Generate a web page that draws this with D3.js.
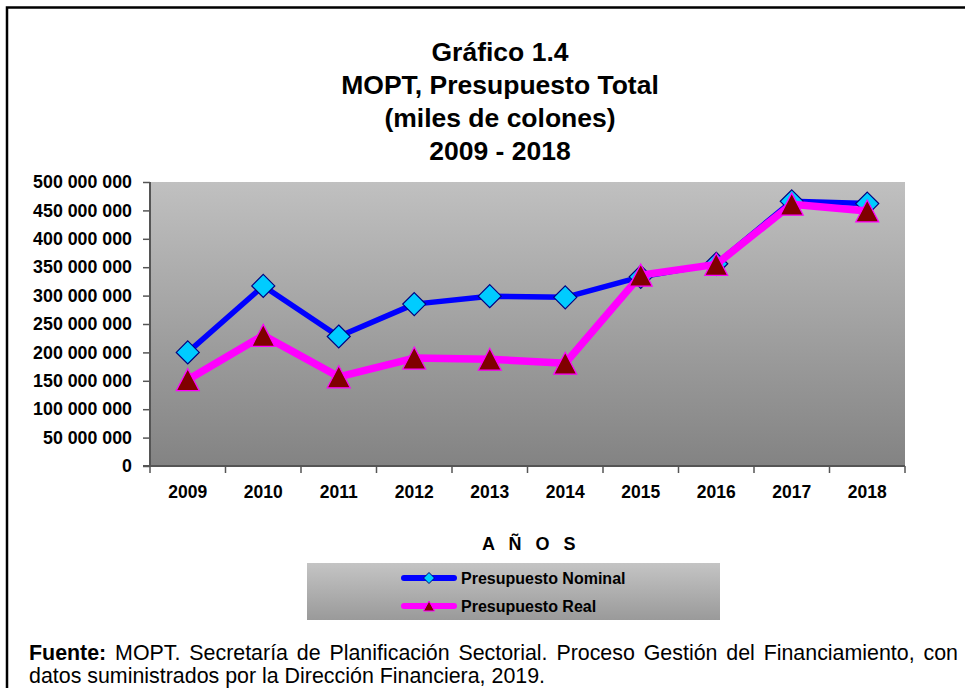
<!DOCTYPE html>
<html>
<head>
<meta charset="utf-8">
<script src="https://cdn.jsdelivr.net/npm/d3@7"></script>
<style>
  html, body { margin: 0; padding: 0; background: #fff; }
</style>
</head>
<body>
<svg id="chart" width="965" height="688"></svg>
<script>
const years = ["2009","2010","2011","2012","2013","2014","2015","2016","2017","2018"];
const nominal = [200000000, 317000000, 228000000, 285000000, 299000000, 297000000, 333000000, 356000000, 466000000, 462000000];
const real    = [152000000, 230000000, 157000000, 190000000, 188000000, 181000000, 336000000, 355000000, 461000000, 449000000];
const yTicks  = [0, 50000000, 100000000, 150000000, 200000000, 250000000, 300000000, 350000000, 400000000, 450000000, 500000000];
const titleLines = ["Gráfico 1.4", "MOPT, Presupuesto Total", "(miles de colones)", "2009 - 2018"];
const seriesNames = ["Presupuesto Nominal", "Presupuesto Real"];
const xAxisTitle = "A Ñ O S";
const sourceLabel = "Fuente:";
const sourceLine1 = "MOPT. Secretaría de Planificación Sectorial. Proceso Gestión del Financiamiento, con";
const sourceLine2 = "datos suministrados por la Dirección Financiera, 2019.";

const FONT = '"Liberation Sans", Arial, sans-serif';
const svg = d3.select("#chart");

const defs = svg.append("defs");
const g1 = defs.append("linearGradient").attr("id","plotbg").attr("x1",0).attr("y1",0).attr("x2",0).attr("y2",1);
g1.append("stop").attr("offset","0%").attr("stop-color","#c0c0c0");
g1.append("stop").attr("offset","100%").attr("stop-color","#838383");
const g2 = defs.append("linearGradient").attr("id","legbg").attr("x1",0).attr("y1",0).attr("x2",0).attr("y2",1);
g2.append("stop").attr("offset","0%").attr("stop-color","#c4c4c4");
g2.append("stop").attr("offset","100%").attr("stop-color","#9a9a9a");

// outer border
svg.append("path").attr("d","M7,688 V7.5 H965").attr("fill","none").attr("stroke","#000").attr("stroke-width",2.5);

// title
svg.append("g").selectAll("text").data(titleLines).join("text")
  .attr("x",500).attr("y",(d,i)=>61 + i*33)
  .attr("text-anchor","middle")
  .attr("font-family",FONT).attr("font-weight","bold").attr("font-size",26.5)
  .text(d=>d);

const m = {left:150, right:905, top:182, bottom:466};
const x = d3.scaleBand().domain(years).range([m.left,m.right]);
const y = d3.scaleLinear().domain([0,500000000]).range([m.bottom,m.top]);

svg.append("rect").attr("x",m.left).attr("y",m.top).attr("width",m.right-m.left).attr("height",m.bottom-m.top)
  .attr("fill","url(#plotbg)");

const fmt = v => d3.format(",")(v).replace(/,/g," ");

// y axis
const yAxis = svg.append("g").attr("transform",`translate(${m.left},0)`)
  .call(d3.axisLeft(y).tickValues(yTicks).tickSize(7).tickPadding(11).tickFormat(fmt));
yAxis.select(".domain").attr("stroke","#555").attr("stroke-width",2).attr("d",`M0,${m.top}V${m.bottom}`);
yAxis.selectAll(".tick line").attr("stroke","#555").attr("stroke-width",1.5);
yAxis.selectAll(".tick text").attr("font-family",FONT).attr("font-weight","bold").attr("font-size",17.8).attr("fill","#000");

// x axis
const xAxis = svg.append("g").attr("transform",`translate(0,${m.bottom})`)
  .call(d3.axisBottom(x).tickSize(0).tickPadding(20));
xAxis.select(".domain").attr("stroke","#555").attr("stroke-width",2).attr("d",`M${m.left-7},0H${m.right}`);
xAxis.selectAll(".tick text").attr("font-family",FONT).attr("font-weight","bold").attr("font-size",17.5).attr("fill","#000");
// category boundary ticks
const bounds = years.map(d=>x(d)).concat([x(years[years.length-1])+x.bandwidth()]);
xAxis.append("g").selectAll("line").data(bounds).join("line")
  .attr("x1",d=>d).attr("x2",d=>d).attr("y1",0).attr("y2",7)
  .attr("stroke","#555").attr("stroke-width",1.5);

svg.append("text").attr("x",531).attr("y",550).attr("text-anchor","middle")
  .attr("font-family",FONT).attr("font-weight","bold").attr("font-size",18)
  .attr("letter-spacing","4.5px")
  .text(xAxisTitle);

const cx = d => x(d) + x.bandwidth()/2;
const line = d3.line().x(d=>cx(d.year)).y(d=>y(d.v));
const nomData = years.map((yr,i)=>({year:yr, v:nominal[i]}));
const realData = years.map((yr,i)=>({year:yr, v:real[i]}));

const diamond = (s) => `M0,${-s}L${s},0L0,${s}L${-s},0Z`;
const tri = (w,h) => `M0,${-h/2}L${w/2},${h/2}L${-w/2},${h/2}Z`;

// nominal
svg.append("path").datum(nomData).attr("d",line).attr("fill","none")
  .attr("stroke","#0000ff").attr("stroke-width",5.5).attr("stroke-linejoin","round");
svg.append("g").selectAll("path").data(nomData).join("path")
  .attr("transform",d=>`translate(${cx(d.year)},${y(d.v)})`)
  .attr("d",diamond(11.5)).attr("fill","#00ccff").attr("stroke","#000080").attr("stroke-width",1.2);

// real
svg.append("path").datum(realData).attr("d",line).attr("fill","none")
  .attr("stroke","#ff00ff").attr("stroke-width",7.5).attr("stroke-linejoin","round");
svg.append("g").selectAll("path").data(realData).join("path")
  .attr("transform",d=>`translate(${cx(d.year)},${y(d.v)})`)
  .attr("d",tri(23,22)).attr("fill","#800000").attr("stroke","#ff00ff").attr("stroke-width",1.2);

// legend
const L = {x:307, y:563, w:413, h:57};
svg.append("rect").attr("x",L.x).attr("y",L.y).attr("width",L.w).attr("height",L.h).attr("fill","url(#legbg)");
const legRows = [
  {name:seriesNames[0], color:"#0000ff", y:578, mk:"d"},
  {name:seriesNames[1], color:"#ff00ff", y:606, mk:"t"}
];
const lg = svg.append("g").selectAll("g").data(legRows).join("g");
lg.append("line").attr("x1",404).attr("x2",454).attr("y1",d=>d.y).attr("y2",d=>d.y)
  .attr("stroke",d=>d.color).attr("stroke-width",6).attr("stroke-linecap","round");
lg.append("path").attr("transform",d=>`translate(429,${d.y})`)
  .attr("d",d=>d.mk==="d"?diamond(5.5):tri(11,10))
  .attr("fill",d=>d.mk==="d"?"#00ccff":"#800000")
  .attr("stroke",d=>d.mk==="d"?"#000080":"#ff00ff").attr("stroke-width",1);
lg.append("text").attr("x",461).attr("y",d=>d.y+6)
  .attr("font-family",FONT).attr("font-weight","bold").attr("font-size",16)
  .text(d=>d.name);

// source note (line 1 justified word by word)
const FS = 21.4, fx0 = 29, fx1 = 958;
const words = [{t:sourceLabel, b:true}].concat(sourceLine1.split(" ").map(t=>({t, b:false})));
const fg = svg.append("g").attr("font-family",FONT).attr("font-size",FS);
const wEls = fg.selectAll("text.w").data(words).join("text").attr("class","w")
  .attr("y",660).attr("font-weight",d=>d.b?"bold":"normal").text(d=>d.t);
const widths = [];
wEls.each(function(){ widths.push(this.getComputedTextLength()); });
const gap = (fx1 - fx0 - d3.sum(widths)) / (words.length - 1);
let cur = fx0;
wEls.attr("x",(d,i)=>{ const v = cur; cur += widths[i] + gap; return v; });
fg.append("text").attr("x",fx0).attr("y",683).text(sourceLine2);
</script>
</body>
</html>
